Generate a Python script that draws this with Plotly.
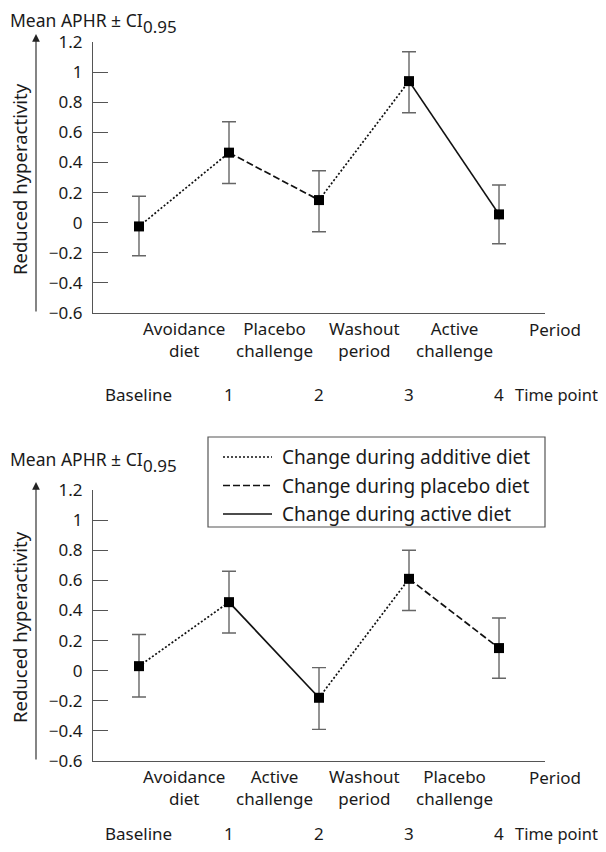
import plotly.graph_objects as go

OFF = 8  # page body margin in the browser
W, H = 606 - OFF, 852 - 2 * OFF

def px(x):
    return (x - OFF) / W

def py(y):
    return 1 - (y - OFF) / H

# ---------------- data ----------------
time_points = [0, 1, 2, 3, 4]
time_labels = ["Baseline", "1", "2", "3", "4"]
period_pos = [0.5, 1.5, 2.5, 3.5]

top_periods = ["Avoidance<br>diet", "Placebo<br>challenge", "Washout<br>period", "Active<br>challenge"]
top_mean = [-0.025, 0.465, 0.15, 0.94, 0.055]
top_upper = [0.175, 0.67, 0.345, 1.135, 0.25]
top_lower = [-0.22, 0.26, -0.06, 0.73, -0.14]
top_styles = ["additive", "placebo", "additive", "active"]

bot_periods = ["Avoidance<br>diet", "Active<br>challenge", "Washout<br>period", "Placebo<br>challenge"]
bot_mean = [0.03, 0.455, -0.18, 0.61, 0.15]
bot_upper = [0.24, 0.66, 0.02, 0.80, 0.35]
bot_lower = [-0.175, 0.25, -0.39, 0.40, -0.05]
bot_styles = ["additive", "active", "additive", "placebo"]

legend_keys = ["additive", "placebo", "active"]
legend_labels = ["Change during additive diet", "Change during placebo diet", "Change during active diet"]

y_ticks = [-0.6, -0.4, -0.2, 0, 0.2, 0.4, 0.6, 0.8, 1, 1.2]
y_ticktext = ["\u22120.6", "\u22120.4", "\u22120.2", "0", "0.2", "0.4", "0.6", "0.8", "1", "1.2"]

# ---------------- style ----------------
FONT = "Noto Sans"
FS = 17
TXT = "#1a1a1a"
AX = "#555555"
DASH = {"additive": "2px,2px", "placebo": "7px,3px", "active": "solid"}

fig = go.Figure()

panels = [
    dict(xa="x", ya="y", periods=top_periods, mean=top_mean, up=top_upper, lo=top_lower,
         styles=top_styles, y_top=42, y_bot=313, title_y=20.5, time_y=394),
    dict(xa="x2", ya="y2", periods=bot_periods, mean=bot_mean, up=bot_upper, lo=bot_lower,
         styles=bot_styles, y_top=490, y_bot=761, title_y=459, time_y=833),
]

annotations = []
shapes = []

def txt(**kw):
    size = kw.pop("size", FS)
    d = dict(showarrow=False, font=dict(family=FONT, size=size, color=TXT), yanchor="middle")
    d.update(kw)
    return d

for i, p in enumerate(panels):
    for key in legend_keys:
        xs, ys = [], []
        for s, st in enumerate(p["styles"]):
            if st == key:
                xs += [time_points[s], time_points[s + 1], None]
                ys += [p["mean"][s], p["mean"][s + 1], None]
        if xs:
            fig.add_trace(go.Scatter(x=xs, y=ys, mode="lines", xaxis=p["xa"], yaxis=p["ya"],
                                     line=dict(color="#111111", width=1.7, dash=DASH[key]),
                                     showlegend=False, hoverinfo="skip"))
    fig.add_trace(go.Scatter(
        x=time_points, y=p["mean"], mode="markers", xaxis=p["xa"], yaxis=p["ya"],
        marker=dict(symbol="square", size=10, color="black"),
        error_y=dict(type="data", symmetric=False,
                     array=[u - m for u, m in zip(p["up"], p["mean"])],
                     arrayminus=[m - l for m, l in zip(p["mean"], p["lo"])],
                     color="#666666", thickness=1.4, width=7),
        showlegend=False))

    off = p["y_bot"]
    for xp, lab in zip(period_pos, p["periods"]):
        annotations.append(txt(x=xp, y=py(off + 26.5), xref=p["xa"], yref="paper", text=lab,
                               xanchor="center"))
    annotations.append(txt(x=px(527), y=py(off + 16), xref="paper", yref="paper", text="Period",
                           xanchor="left"))
    for xp, lab in zip(time_points, time_labels):
        annotations.append(txt(x=xp, y=py(p["time_y"]), xref=p["xa"], yref="paper", text=lab,
                               xanchor="center"))
    annotations.append(txt(x=px(513), y=py(p["time_y"]), xref="paper", yref="paper", text="Time point",
                           xanchor="left", size=16.5))
    # title "Mean APHR ± CI" with subscript 0.95
    annotations.append(txt(x=px(OFF), y=py(p["title_y"]), xref="paper", yref="paper",
                           text="Mean APHR \u00b1 CI", xanchor="left", size=17.5))
    annotations.append(txt(x=px(OFF + 133), y=py(p["title_y"] + 6), xref="paper", yref="paper",
                           text="0.95", xanchor="left", size=17))
    # rotated y label
    annotations.append(txt(x=px(19), y=py(p["y_top"] + 137), xref="paper", yref="paper",
                           text="Reduced hyperactivity", textangle=-90, xanchor="center", size=18.5))
    # arrow
    annotations.append(dict(x=px(36), y=py(p["y_top"] - 8), xref="paper", yref="paper",
                            ax=0, ay=p["y_bot"] - (p["y_top"] - 8), axref="pixel", ayref="pixel",
                            text="", showarrow=True, arrowhead=2, arrowsize=1.4, arrowwidth=1.1,
                            arrowcolor="#222222", standoff=0, startstandoff=0))

# legend box
shapes.append(dict(type="rect", xref="paper", yref="paper", x0=px(208), x1=px(545), y0=py(527), y1=py(437),
                   line=dict(color=AX, width=1.2), fillcolor="white", layer="above"))
for k, (key, lab) in enumerate(zip(legend_keys, legend_labels)):
    yy = 457 + k * 28.5
    shapes.append(dict(type="line", xref="paper", yref="paper", x0=px(223), x1=px(272), y0=py(yy), y1=py(yy),
                       line=dict(color="#111111", width=1.5, dash=DASH[key]), layer="above"))
    annotations.append(txt(x=px(280), y=py(yy), xref="paper", yref="paper", text=lab,
                           xanchor="left", size=19))

axis_common = dict(showgrid=False, zeroline=False, showline=True, linecolor=AX, linewidth=1.2,
                   automargin=False, fixedrange=True)

fig.update_layout(
    template="none",
    width=W, height=H, margin=dict(l=0, r=0, t=0, b=0, pad=0), autosize=False,
    paper_bgcolor="white", plot_bgcolor="white", showlegend=False,
    font=dict(family=FONT, size=FS, color=TXT),
    xaxis=dict(domain=[px(93), px(545)], range=[-0.511, 4.511], showticklabels=False, ticks="",
               anchor="y", **axis_common),
    yaxis=dict(domain=[py(313), py(42)], range=[-0.6, 1.2], tickvals=y_ticks, ticktext=y_ticktext,
               ticks="inside", ticklen=15, tickcolor=AX, tickwidth=1.2, anchor="x", ticklabelstandoff=6,
               tickfont=dict(family=FONT, size=FS, color=TXT), **axis_common),
    xaxis2=dict(domain=[px(93), px(545)], range=[-0.511, 4.511], showticklabels=False, ticks="",
                anchor="y2", **axis_common),
    yaxis2=dict(domain=[py(761), py(490)], range=[-0.6, 1.2], tickvals=y_ticks, ticktext=y_ticktext,
                ticks="inside", ticklen=15, tickcolor=AX, tickwidth=1.2, anchor="x2", ticklabelstandoff=6,
                tickfont=dict(family=FONT, size=FS, color=TXT), **axis_common),
    annotations=annotations, shapes=shapes,
)

fig.write_html("out.html")
